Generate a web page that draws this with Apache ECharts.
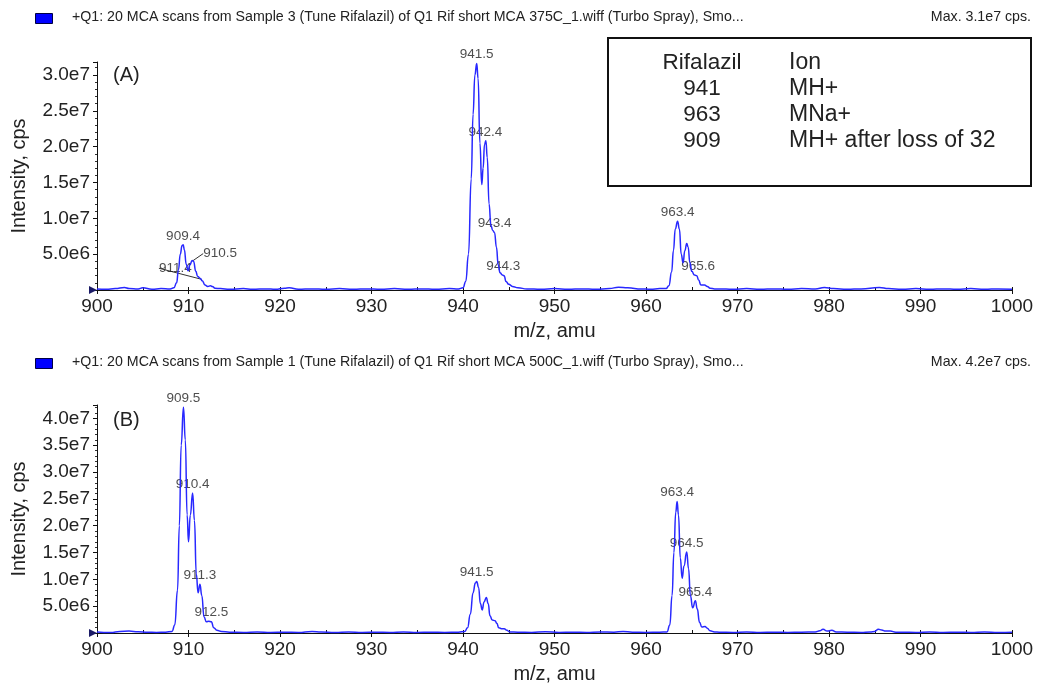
<!DOCTYPE html>
<html><head><meta charset="utf-8">
<script src="https://cdn.jsdelivr.net/npm/echarts@6/dist/echarts.min.js"></script>
<style>html,body{margin:0;padding:0;background:#fff}#c{width:1037px;height:687px}</style>
</head><body><div id="c"></div>
<script>
// ---------- DATA (intensity in units of 1e6 cps) ----------
const headerA = '+Q1: 20 MCA scans from Sample 3 (Tune Rifalazil) of Q1 Rif short MCA 375C_1.wiff (Turbo Spray), Smo...';
const headerB = '+Q1: 20 MCA scans from Sample 1 (Tune Rifalazil) of Q1 Rif short MCA 500C_1.wiff (Turbo Spray), Smo...';
const maxA = 'Max. 3.1e7 cps.';
const maxB = 'Max. 4.2e7 cps.';
const panelTags = ['(A)', '(B)'];
const xTitle = 'm/z, amu';
const yTitle = 'Intensity, cps';
const legendHead = ['Rifalazil', 'Ion'];
const legendRows = [['941', 'MH+'], ['963', 'MNa+'], ['909', 'MH+ after loss of 32']];

const spectrumA = [
  [900,0.15],[901,0.1],[902,0.2],[903,0.35],[903.5,0.2],[904.5,0.15],[905,0.3],[906,0.1],[907,0.2],[908,0.15],
  [908.4,0.3],[908.7,1.0],[908.9,2.8],[909.1,5.0],[909.3,6.2],[909.42,6.3],[909.55,5.6],[909.75,3.6],[909.95,2.7],
  [910.15,3.5],[910.4,4.1],[910.55,4.0],[910.8,2.6],[911.0,1.9],[911.3,1.6],[911.5,1.3],[911.8,0.7],[912.1,0.5],
  [912.4,0.6],[912.6,0.5],[912.9,0.25],
  [913.5,0.2],[914.5,0.1],[916,0.2],[917,0.1],[918.5,0.15],[919.5,0.1],[920.5,0.25],[921,0.3],[922,0.1],[923.5,0.15],
  [925,0.1],[926.5,0.2],[928,0.1],[929.5,0.15],[931,0.1],[932.5,0.2],[934,0.1],[935.5,0.15],[937,0.1],[938.5,0.2],[939.5,0.15],
  [940.0,0.3],[940.3,1.2],[940.6,5],[940.9,15.5],[941.1,24.5],[941.3,30],[941.5,31.6],[941.65,29.5],[941.85,20.5],[942.05,14.7],
  [942.2,17],[942.35,20.3],[942.5,20.8],[942.65,18.5],[942.85,12],[943.05,9],[943.25,8.3],[943.45,8.0],[943.65,6],
  [943.85,3.5],[944.05,2.4],[944.3,2.1],[944.5,2.0],[944.7,1.2],[945.0,0.8],[945.4,0.5],
  [946,0.3],[947,0.15],[948.5,0.1],[950,0.2],[951.5,0.1],[953,0.15],[954.5,0.1],[956,0.2],[957,0.4],[958,0.3],
  [959.5,0.15],[960.5,0.1],[961.5,0.2],
  [962.2,0.2],[962.5,0.6],[962.8,2.5],[963.0,5.5],[963.2,8.5],[963.45,9.6],[963.65,8.5],[963.85,5.0],[964.05,3.8],
  [964.25,5.5],[964.45,6.5],[964.6,6.0],[964.8,3.8],[965.0,2.6],[965.3,2.1],[965.55,2.0],[965.75,1.4],[966.0,0.7],
  [966.4,0.7],[966.7,0.5],[967.0,0.25],[967.5,0.15],
  [968,0.15],[969.5,0.1],[971,0.2],[972.5,0.1],[974,0.15],[975.5,0.1],[977,0.2],[978.5,0.15],[979.5,0.35],[980.5,0.2],
  [982,0.1],[983.5,0.15],[985.5,0.35],[986.5,0.2],[988,0.1],[989.5,0.2],[991,0.1],[992.5,0.15],[994,0.1],[995.5,0.2],
  [997,0.1],[998.5,0.15],[1000,0.1]
];
const peaksA = [
  [909.4,6.3,'909.4'],[910.5,4.1,'910.5'],[911.4,1.5,'911.4'],
  [941.5,31.6,'941.5'],[942.45,20.8,'942.4'],[943.45,8.0,'943.4'],[944.4,2.1,'944.3'],
  [963.45,9.6,'963.4'],[965.7,2.0,'965.6']
];

const spectrumB = [
  [900,0.2],[901.5,0.1],[902.5,0.3],[903.5,0.35],[904.5,0.25],[905.5,0.15],[906.5,0.1],[907.5,0.15],
  [908.2,0.3],[908.5,1.5],[908.8,8],[909.0,20],[909.2,35],[909.45,42.1],[909.65,36],[909.85,22],[910.0,17.0],
  [910.2,22],[910.45,26.1],[910.65,21],[910.85,11],[911.05,7.5],[911.25,9.1],[911.45,7.0],[911.7,3.0],[911.95,2.1],
  [912.2,2.2],[912.5,2.1],[912.75,1.0],[913.1,0.5],[913.6,0.3],
  [914.5,0.15],[916,0.1],[917.5,0.2],[919,0.1],[920.5,0.15],[922,0.1],[923.5,0.3],[924.5,0.2],[926,0.1],[927.5,0.2],
  [929,0.1],[930.5,0.15],[932,0.1],[933.5,0.2],[935,0.1],[936.5,0.15],[938,0.1],[939.5,0.15],
  [940.2,0.3],[940.5,1.0],[940.8,3.5],[941.1,7.5],[941.35,9.3],[941.5,9.6],[941.7,8.5],[941.9,5.5],[942.1,4.3],
  [942.3,5.8],[942.55,6.6],[942.75,5.5],[942.95,3.2],[943.2,2.4],[943.5,2.3],[943.7,1.8],[943.9,1.0],[944.2,0.8],
  [944.5,0.8],[944.8,0.5],[945.1,0.2],
  [946,0.15],[947.5,0.1],[949,0.25],[950.5,0.1],[952,0.15],[953.5,0.1],[955,0.2],[956.5,0.15],[957.5,0.3],[958.5,0.15],
  [960,0.1],[961.5,0.15],
  [962.3,0.2],[962.6,1.5],[962.85,7],[963.05,15],[963.25,22.5],[963.4,24.5],[963.55,22],[963.75,14],[963.95,10.2],
  [964.15,12.5],[964.45,15.1],[964.65,12],[964.85,7],[965.1,4.7],[965.4,6.0],[965.6,4.5],[965.85,2.0],[966.1,1.1],
  [966.45,1.2],[966.7,0.9],[967.0,0.4],[967.5,0.2],
  [968,0.15],[969.5,0.1],[971,0.2],[972.5,0.1],[974,0.15],[975.5,0.1],[977,0.15],[978.5,0.2],
  [979.0,0.4],[979.35,0.7],[979.8,0.35],[980.3,0.5],[980.8,0.2],[982,0.15],[983.5,0.1],[984.5,0.2],
  [985.0,0.3],[985.4,0.7],[985.75,0.55],[986.2,0.35],[986.7,0.35],[987.3,0.15],
  [988,0.15],[989.5,0.1],[991,0.2],[992.5,0.1],[994,0.15],[995.5,0.1],[997,0.2],[998.5,0.1],[1000,0.15]
];
const peaksB = [
  [909.45,42.1,'909.5'],[910.45,26.1,'910.4'],[911.25,9.1,'911.3'],[912.5,2.1,'912.5'],
  [941.5,9.6,'941.5'],[963.4,24.5,'963.4'],[964.45,15.1,'964.5'],[965.4,6.0,'965.4']
];

// ---------- CHART ----------
const FONT = '"Liberation Sans", Arial, Helvetica, sans-serif';
const TXT = '#222';
const LINE = '#2828ff';
const G = [{top:62,h:228},{top:405,h:228}];
const yMax = [31.8, 42.5];

function yFmt(v){
  if (v <= 0 || Math.abs(v/5 - Math.round(v/5)) > 1e-6) return '';
  return (v*1e6).toExponential(1).replace('e+','e');
}
const leaderOffsets = {'910.5':[27,2], '911.4':[-26,-2]};

const chart = echarts.init(document.getElementById('c'), null, {renderer:'canvas'});
const grids = G.map(g => ({left:97, right:25, top:g.top, height:g.h, containLabel:false}));
const xAxes = [], yAxes = [];
[0,1].forEach(i => {
  xAxes.push({
    gridIndex:i, type:'value', min:900, max:1000, interval:10,
    axisLine:{lineStyle:{color:'#111', width:1}},
    axisTick:{show:true, length:4, lineStyle:{color:'#111'}},
    axisLabel:{fontFamily:FONT, fontSize:19, color:TXT, margin:7, formatter:v => String(v)},
    splitLine:{show:false},
    name:xTitle, nameLocation:'middle', nameGap:31,
    nameTextStyle:{fontFamily:FONT, fontSize:20, color:TXT}
  });
  xAxes.push({
    gridIndex:i, type:'value', min:900, max:1000, interval:5, position:'bottom',
    axisLine:{show:false}, axisLabel:{show:false}, splitLine:{show:false},
    axisTick:{show:true, inside:true, length:3, lineStyle:{color:'#111'}}
  });
  yAxes.push({
    gridIndex:i, type:'value', min:0, max:yMax[i], interval:5,
    axisLine:{show:true, lineStyle:{color:'#111', width:1}},
    axisTick:{show:true, length:4, lineStyle:{color:'#111'}},
    minorTick:{show:true, splitNumber:5, length:2, lineStyle:{color:'#333'}},
    axisLabel:{fontFamily:FONT, fontSize:19, color:TXT, margin:7, formatter:yFmt, showMaxLabel:false},
    splitLine:{show:false},
    name:yTitle, nameLocation:'middle', nameGap:68,
    nameTextStyle:{fontFamily:FONT, fontSize:20, color:TXT}
  });
});

function lineSeries(i, data){
  return {
    type:'line', xAxisIndex:i*2, yAxisIndex:i, data:data, showSymbol:false, symbol:'none',
    smooth:0.5, smoothMonotone:'x', silent:true,
    lineStyle:{color:LINE, width:1.5},
    markPoint:{
      silent:true, symbol:'triangle', symbolSize:[8,8], symbolRotate:-90, symbolOffset:[-4,0],
      itemStyle:{color:'#1a1a66'}, label:{show:false},
      data:[{coord:[900,0]}]
    }
  };
}
function labelSeries(i, peaks){
  return {
    type:'scatter', xAxisIndex:i*2, yAxisIndex:i, symbolSize:0, silent:true,
    data:peaks.map(p => {
      const item = {value:[p[0],p[1]], name:p[2]};
      if (i === 0 && leaderOffsets[p[2]]) item.labelLine = {show:true, lineStyle:{color:'#333', width:1}};
      return item;
    }),
    label:{show:true, position:'top', distance:2, formatter:'{b}',
      fontFamily:FONT, fontSize:13.5, color:TXT},
    labelLine:{show:false},
    labelLayout:function(params){
      const off = leaderOffsets[params.text];
      if (i === 0 && off) return {dx:off[0], dy:off[1]};
      return {};
    }
  };
}

const graphics = [];
[[headerA, maxA, 18],[headerB, maxB, 363]].forEach(([h, m, y]) => {
  graphics.push({type:'rect', left:35, top:y-5, shape:{width:17, height:10},
    style:{fill:'#0000ff', stroke:'#000044', lineWidth:1}});
  graphics.push({type:'text', left:72, top:y-8, style:{text:h, font:'14.2px '+FONT, fill:TXT}});
  graphics.push({type:'text', right:6, top:y-8, style:{text:m, font:'14.2px '+FONT, fill:TXT}});
});
graphics.push({type:'text', left:113, top:65, style:{text:panelTags[0], font:'20px '+FONT, fill:TXT}});
graphics.push({type:'text', left:113, top:410, style:{text:panelTags[1], font:'20px '+FONT, fill:TXT}});
// legend box
graphics.push({type:'rect', left:607, top:37, shape:{width:423, height:148},
  style:{fill:'#fff', stroke:'#111', lineWidth:2}, z:10});
const rows = [legendHead].concat(legendRows);
const rowY = [63, 89, 115, 141];
rows.forEach((r, k) => {
  graphics.push({type:'text', x:702, y:rowY[k], z:11,
    style:{text:r[0], font:'22.5px '+FONT, fill:TXT, align:'center', verticalAlign:'middle'}});
  graphics.push({type:'text', x:789, y:rowY[k], z:11,
    style:{text:r[1], font:'23px '+FONT, fill:TXT, align:'left', verticalAlign:'middle'}});
});

chart.setOption({
  backgroundColor:'#fff',
  animation:false,
  grid:grids, xAxis:xAxes, yAxis:yAxes,
  series:[lineSeries(0, spectrumA), labelSeries(0, peaksA), lineSeries(1, spectrumB), labelSeries(1, peaksB)],
  graphic:graphics
});
</script></body></html>
